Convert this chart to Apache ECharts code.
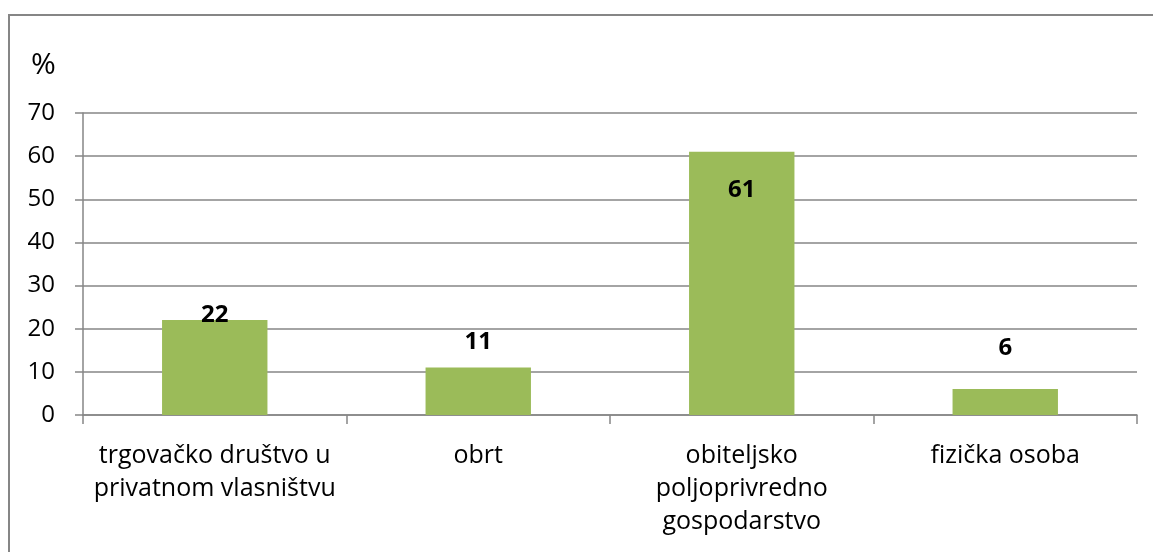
<!DOCTYPE html>
<html>
<head>
<meta charset="utf-8">
<script src="https://cdn.jsdelivr.net/npm/echarts@6/dist/echarts.min.js"></script>
<style>
  html, body { margin: 0; padding: 0; background: #fff; }
  #chart { width: 1153px; height: 552px; }
</style>
</head>
<body>
<div id="chart"></div>
<script>
var categories = [
  'trgovačko društvo u\nprivatnom vlasništvu',
  'obrt',
  'obiteljsko\npoljoprivredno\ngospodarstvo',
  'fizička osoba'
];
var values = [22, 11, 61, 6];
var yTicks = [0, 10, 20, 30, 40, 50, 60, 70];

// excel had the labels placed by hand, so nudge each one
var labelPos = ['top', 'top', 'insideTop', 'top'];
var labelOffset = [[0, 12], [0, -8], [0, 21], [0, -24]];

var font = 'Open Sans';
var gray = '#868686';

var chart = echarts.init(document.getElementById('chart'));

chart.setOption({
  animation: false,
  grid: { left: 83, right: 16, top: 113, bottom: 137 },
  graphic: [
    {
      type: 'rect',
      shape: { x: 9, y: 15, width: 1300, height: 700 },
      style: { fill: 'none', stroke: gray, lineWidth: 2 }
    },
    {
      type: 'text',
      left: 31, top: 50,
      style: { text: '%', font: '30px "' + font + '"', fill: '#000' }
    }
  ],
  xAxis: {
    type: 'category',
    data: categories,
    axisLine: { lineStyle: { color: gray, width: 1.5 } },
    axisTick: { show: true, length: 9, lineStyle: { color: gray, width: 1.5 } },
    axisLabel: {
      color: '#000', fontFamily: font, fontSize: 25, lineHeight: 33,
      margin: 24, interval: 0
    }
  },
  yAxis: {
    type: 'value',
    min: yTicks[0],
    max: yTicks[yTicks.length - 1],
    interval: 10,
    axisLine: { show: true, lineStyle: { color: gray, width: 1.5 } },
    axisTick: { show: true, length: 8, lineStyle: { color: gray, width: 1.5 } },
    axisLabel: { color: '#000', fontFamily: font, fontSize: 24, margin: 28 },
    splitLine: { lineStyle: { color: gray, width: 1.5 } }
  },
  series: [{
    type: 'bar',
    barWidth: '40%',
    itemStyle: { color: '#9BBB59' },
    data: values.map(function (v, i) {
      return {
        value: v,
        label: {
          show: true,
          position: labelPos[i],
          offset: labelOffset[i],
          color: '#000',
          fontFamily: font,
          fontSize: 24,
          fontWeight: 'bold'
        }
      };
    })
  }]
});
</script>
</body>
</html>
